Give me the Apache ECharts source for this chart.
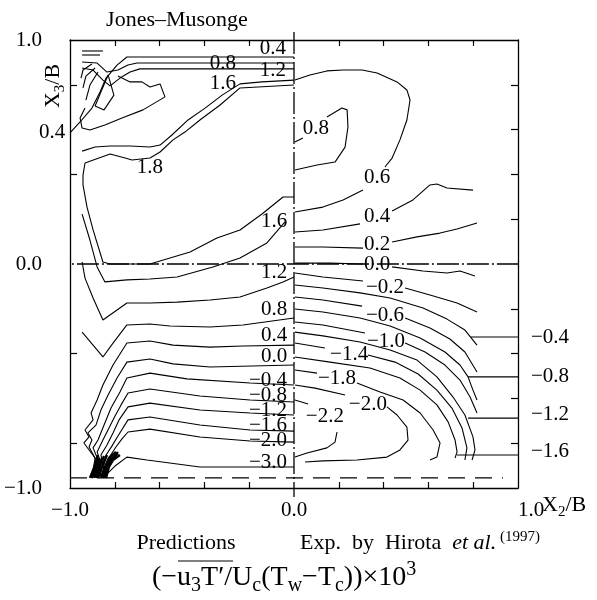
<!DOCTYPE html>
<html>
<head>
<meta charset="utf-8">
<script src="https://cdn.jsdelivr.net/npm/echarts@6/dist/echarts.min.js"></script>
<style>
  html, body { margin: 0; padding: 0; background: #fff; }
  #chart { width: 597px; height: 600px; }
</style>
</head>
<body>
<div id="chart"></div>
<script>
// ---- predictions (left half), Jones-Musonge model : contour polylines [x2/B, x3/B] ----
var predTop1 = [[[-0.946, 0.951], [-0.853, 0.951]]];
var predTop2 = [[[-0.946, 0.933], [-0.866, 0.933]]];
var predChevrons = [
  [[-0.902, 0.893], [-0.942, 0.866], [-0.951, 0.830]],
  [[-0.888, 0.875], [-0.929, 0.839], [-0.942, 0.786]],
  [[-0.875, 0.857], [-0.911, 0.799], [-0.929, 0.732]]
];
var pred04Top = [[[-1.0, 0.585], [-0.955, 0.634], [-0.902, 0.696], [-0.866, 0.768], [-0.839, 0.830], [-0.790, 0.888], [-0.746, 0.924], [0, 0.924]]];
var pred08Top = [[[-0.946, 0.902], [-0.879, 0.897], [-0.835, 0.857], [-0.786, 0.866], [-0.741, 0.888], [-0.701, 0.897], [0, 0.897]]];
var pred12Top = [[[-0.946, 0.875], [-0.897, 0.866], [-0.853, 0.821], [-0.821, 0.795], [-0.777, 0.830], [-0.732, 0.857], [-0.688, 0.871], [0, 0.871]]];
var predLoop = [[[-0.786, 0.839], [-0.732, 0.813], [-0.679, 0.813], [-0.643, 0.790], [-0.598, 0.804], [-0.576, 0.746], [-0.674, 0.688], [-0.768, 0.652], [-0.844, 0.621], [-0.911, 0.598], [-0.946, 0.607], [-0.955, 0.652], [-0.933, 0.696]]];
var predLoopSmall = [[[-0.830, 0.844], [-0.804, 0.754], [-0.848, 0.688], [-0.888, 0.705], [-0.862, 0.768], [-0.830, 0.844]]];
var pred16Top = [[[0, 0.821], [-0.143, 0.813], [-0.241, 0.804], [-0.321, 0.754], [-0.397, 0.696], [-0.473, 0.643], [-0.545, 0.576], [-0.598, 0.531], [-0.643, 0.522], [-0.732, 0.527], [-0.821, 0.527], [-0.888, 0.522], [-0.946, 0.504]]];
var pred18 = [[[0, 0.799], [-0.241, 0.786], [-0.330, 0.710], [-0.420, 0.643], [-0.487, 0.589], [-0.540, 0.554], [-0.598, 0.500], [-0.643, 0.473], [-0.723, 0.464], [-0.754, 0.473], [-0.821, 0.491], [-0.933, 0.451], [-0.942, 0.397], [-0.942, 0.353], [-0.924, 0.254], [-0.897, 0.152], [-0.853, 0.009], [-0.821, 0], [-0.643, 0], [-0.464, 0.054], [-0.344, 0.116], [-0.241, 0.152], [-0.143, 0.223], [-0.049, 0.299], [0, 0.299]]];
var pred16 = [[[-0.946, 0.223], [-0.911, 0.107], [-0.879, -0.013], [-0.844, -0.080], [-0.746, -0.071], [-0.643, -0.067], [-0.522, -0.058], [-0.362, -0.013], [-0.241, 0.027], [-0.121, 0.094], [-0.040, 0.188]]];
var pred12 = [[[-0.946, 0.009], [-0.933, -0.063], [-0.897, -0.152], [-0.853, -0.250], [-0.746, -0.174], [-0.643, -0.174], [-0.522, -0.170], [-0.375, -0.161], [-0.241, -0.147], [-0.121, -0.107], [-0.049, -0.080], [0, -0.058]]];
var pred08 = [[[-0.946, -0.304], [-0.897, -0.362], [-0.853, -0.415], [-0.808, -0.353], [-0.746, -0.272], [-0.643, -0.268], [-0.554, -0.277], [-0.375, -0.281], [-0.228, -0.272], [0, -0.241]]];
var pred04 = [[[-0.902, -0.951], [-0.888, -0.866], [-0.938, -0.799], [-0.915, -0.772], [-0.933, -0.741], [-0.897, -0.696], [-0.906, -0.665], [-0.879, -0.607], [-0.853, -0.540], [-0.808, -0.451], [-0.746, -0.353], [-0.643, -0.344], [-0.540, -0.362], [-0.375, -0.371], [-0.228, -0.366], [0, -0.362]]];
var pred00 = [[[-0.893, -0.951], [-0.879, -0.884], [-0.915, -0.817], [-0.902, -0.786], [-0.920, -0.754], [-0.884, -0.719], [-0.862, -0.652], [-0.830, -0.585], [-0.790, -0.509], [-0.746, -0.438], [-0.643, -0.424], [-0.540, -0.446], [-0.375, -0.460], [0, -0.451]]];
var predN04 = [[[-0.884, -0.951], [-0.871, -0.884], [-0.897, -0.821], [-0.875, -0.786], [-0.848, -0.719], [-0.817, -0.643], [-0.777, -0.571], [-0.746, -0.509], [-0.643, -0.487], [-0.478, -0.513], [-0.196, -0.531], [0, -0.540]]];
var predN08 = [[[-0.875, -0.951], [-0.862, -0.888], [-0.879, -0.839], [-0.853, -0.786], [-0.826, -0.732], [-0.799, -0.679], [-0.772, -0.629], [-0.741, -0.576], [-0.643, -0.558], [-0.420, -0.589], [-0.196, -0.607], [0, -0.616]]];
var predN12 = [[[-0.866, -0.951], [-0.853, -0.888], [-0.862, -0.853], [-0.835, -0.808], [-0.808, -0.754], [-0.781, -0.696], [-0.741, -0.638], [-0.643, -0.621], [-0.420, -0.652], [-0.196, -0.665], [0, -0.674]]];
var predN16 = [[[-0.857, -0.951], [-0.848, -0.893], [-0.839, -0.853], [-0.813, -0.813], [-0.786, -0.768], [-0.741, -0.696], [-0.643, -0.683], [-0.420, -0.719], [-0.196, -0.741], [0, -0.746]]];
var predN20 = [[[-0.848, -0.951], [-0.839, -0.897], [-0.821, -0.857], [-0.795, -0.817], [-0.768, -0.781], [-0.741, -0.750], [-0.643, -0.737], [-0.420, -0.772], [-0.196, -0.790], [0, -0.795]]];
var predN30 = [[[-0.853, -0.955], [-0.799, -0.902], [-0.746, -0.862], [-0.656, -0.875], [-0.420, -0.906], [0, -0.906]]];
var predFan = [
  [[-0.911, -0.955], [-0.893, -0.911], [-0.875, -0.853]],
  [[-0.906, -0.955], [-0.888, -0.915], [-0.870, -0.866]],
  [[-0.902, -0.955], [-0.884, -0.920], [-0.866, -0.875]],
  [[-0.893, -0.955], [-0.875, -0.911], [-0.857, -0.866]],
  [[-0.884, -0.955], [-0.866, -0.902], [-0.848, -0.857]],
  [[-0.875, -0.955], [-0.857, -0.906], [-0.835, -0.853]],
  [[-0.862, -0.955], [-0.844, -0.906], [-0.826, -0.866], [-0.795, -0.839]],
  [[-0.853, -0.955], [-0.837, -0.909], [-0.817, -0.870], [-0.786, -0.846]],
  [[-0.844, -0.955], [-0.830, -0.911], [-0.808, -0.875], [-0.777, -0.853]],
  [[-0.839, -0.955], [-0.821, -0.884], [-0.786, -0.839]]
];

// ---- experiment (right half), Hirota et al. 1997 ----
var exp08 = [[[0.004, 0.545], [0.040, 0.563]], [[0.147, 0.656], [0.214, 0.696], [0.237, 0.688], [0.241, 0.612], [0.228, 0.522], [0.183, 0.455], [0.103, 0.442], [0.004, 0.420]]];
var exp06 = [[[0.004, 0.821], [0.071, 0.844], [0.147, 0.862], [0.219, 0.866], [0.304, 0.866], [0.371, 0.853], [0.460, 0.813], [0.504, 0.777], [0.518, 0.732], [0.504, 0.643], [0.473, 0.554], [0.438, 0.473], [0.406, 0.433]], [[0.308, 0.330], [0.219, 0.286], [0.129, 0.254], [0.004, 0.232]]];
var exp04 = [[[0.004, 0.143], [0.129, 0.152], [0.295, 0.179]], [[0.438, 0.237], [0.531, 0.286], [0.607, 0.353], [0.638, 0.357], [0.683, 0.339], [0.799, 0.330]]];
var exp02 = [[[0.004, 0.076], [0.129, 0.076], [0.308, 0.071]], [[0.438, 0.098], [0.549, 0.121], [0.652, 0.138], [0.728, 0.156], [0.817, 0.183]]];
var exp00 = [[[0.004, 0.004], [0.161, 0.004], [0.308, 0]], [[0.438, -0.013], [0.576, -0.031], [0.683, -0.040], [0.741, -0.031], [0.808, -0.054]]];
var expN02 = [[[0.004, -0.040], [0.129, -0.058], [0.308, -0.076]], [[0.496, -0.107], [0.607, -0.138], [0.728, -0.174], [0.817, -0.214]]];
var expN04 = [[[0.004, -0.094], [0.129, -0.107], [0.295, -0.129], [0.429, -0.152], [0.576, -0.196], [0.683, -0.246], [0.763, -0.295], [0.817, -0.362]]];
var expN06 = [[[0.004, -0.147], [0.129, -0.161], [0.304, -0.188]], [[0.496, -0.241], [0.607, -0.286], [0.696, -0.335], [0.763, -0.393], [0.817, -0.482]]];
var expN08 = [[[0.004, -0.201], [0.129, -0.214], [0.295, -0.241], [0.429, -0.277], [0.563, -0.330], [0.674, -0.393], [0.741, -0.451], [0.777, -0.504], [0.799, -0.563], [0.817, -0.607]]];
var expN10 = [[[0.004, -0.259], [0.129, -0.272], [0.317, -0.308]], [[0.496, -0.353], [0.585, -0.393], [0.674, -0.451], [0.741, -0.518], [0.786, -0.594], [0.817, -0.665]]];
var expN12 = [[[0.004, -0.304], [0.129, -0.321], [0.295, -0.348], [0.429, -0.384], [0.549, -0.429], [0.638, -0.504], [0.710, -0.594], [0.763, -0.674], [0.799, -0.772], [0.808, -0.830], [0.795, -0.875]]];
var expN14 = [[[0.004, -0.353], [0.138, -0.375]], [[0.330, -0.406], [0.451, -0.438], [0.554, -0.491], [0.638, -0.563], [0.705, -0.643], [0.750, -0.732], [0.772, -0.821], [0.763, -0.875]]];
var expN16 = [[[0.004, -0.415], [0.161, -0.438], [0.339, -0.464], [0.473, -0.509], [0.563, -0.563], [0.638, -0.629], [0.688, -0.705], [0.719, -0.786], [0.728, -0.839], [0.719, -0.866]]];
var expN18 = [[[0.004, -0.473], [0.103, -0.487]], [[0.281, -0.531], [0.384, -0.571], [0.487, -0.607], [0.563, -0.665], [0.621, -0.741], [0.652, -0.799], [0.638, -0.862], [0.607, -0.875]]];
var expN20 = [[[0.004, -0.540], [0.094, -0.554], [0.228, -0.585]], [[0.415, -0.638], [0.460, -0.674], [0.504, -0.728], [0.509, -0.786], [0.473, -0.830], [0.415, -0.862], [0.281, -0.875], [0.129, -0.879], [0.049, -0.884]]];
var expN22 = [[[0.004, -0.607], [0.063, -0.625]], [[0.192, -0.750], [0.183, -0.795], [0.147, -0.821], [0.058, -0.844], [0.004, -0.862]]];
var expLeaders = [[[0.790, -0.326], [1.0, -0.326]], [[0.777, -0.504], [1.0, -0.504]], [[0.777, -0.688], [1.0, -0.688]], [[0.728, -0.853], [1.0, -0.853]]];

// contour level labels [x, y, text]
var predLabels = [
  [-0.094, 0.960, '0.4'], [-0.317, 0.893, '0.8'], [-0.094, 0.862, '1.2'], [-0.317, 0.804, '1.6'], [-0.643, 0.429, '1.8'],
  [-0.089, 0.188, '1.6'], [-0.089, -0.036, '1.2'], [-0.089, -0.205, '0.8'], [-0.089, -0.317, '0.4'], [-0.089, -0.411, '0.0'],
  [-0.116, -0.522, '\u22120.4'], [-0.116, -0.585, '\u22120.8'], [-0.116, -0.652, '\u22121.2'], [-0.116, -0.719, '\u22121.6'],
  [-0.116, -0.786, '\u22122.0'], [-0.116, -0.884, '\u22123.0'], [-1.080, 0.589, '0.4']
];
var expLabels = [
  [0.098, 0.607, '0.8'], [0.371, 0.384, '0.6'], [0.371, 0.210, '0.4'], [0.371, 0.085, '0.2'], [0.371, -0.004, '0.0'],
  [0.406, -0.103, '\u22120.2'], [0.406, -0.228, '\u22120.6'], [0.411, -0.348, '\u22121.0'], [0.246, -0.406, '\u22121.4'],
  [0.192, -0.509, '\u22121.8'], [0.330, -0.625, '\u22122.0'], [0.138, -0.679, '\u22122.2'],
  [1.143, -0.326, '\u22120.4'], [1.143, -0.500, '\u22120.8'], [1.143, -0.670, '\u22121.2'], [1.143, -0.839, '\u22121.6']
];

// reference lines
var centerLine = [[0, 1.036], [0, -1.04]];
var zeroLine = [[-1.103, 0], [1.107, 0]];
var wallLine = [[-1.0, -0.955], [0.933, -0.955]];

// axis ticks / labels
var xTicks = [-0.8, -0.6, -0.4, -0.2, 0.2, 0.4, 0.6, 0.8];
var rightTicks = [-0.8, -0.6, -0.4, -0.2, 0.2, 0.4, 0.6, 0.8];
var leftTicks = [-0.8, -0.4, 0.4, 0.8];
var axisLabelVals = [-1, 0, 1];

var ink = '#000';
var serif = 'Liberation Serif';
var chart = echarts.init(document.getElementById('chart'));

var series = [];
function addContour(segs, width) {
  segs.forEach(function (seg) {
    series.push({
      type: 'line', data: seg, symbol: 'none', clip: false, silent: true, animation: false, z: 3,
      lineStyle: { color: ink, width: width || 1.1 }
    });
  });
}
[predTop1, predTop2, predChevrons, pred04Top, pred08Top, pred12Top, predLoop, predLoopSmall,
 pred16Top, pred18, pred16, pred12, pred08, pred04, pred00, predN04, predN08, predN12, predN16,
 predN20, predN30,
 exp08, exp06, exp04, exp02, exp00, expN02, expN04, expN06, expN08, expN10, expN12, expN14,
 expN16, expN18, expN20, expN22, expLeaders].forEach(function (c) { addContour(c); });
addContour(predFan, 2.4);

// dash-dot symmetry lines and dashed wall line
series.push({ type: 'line', data: centerLine, symbol: 'none', clip: false, silent: true, animation: false,
  lineStyle: { color: ink, width: 1.3, type: [22, 3, 2, 3] } });
series.push({ type: 'line', data: zeroLine, symbol: 'none', clip: false, silent: true, animation: false,
  lineStyle: { color: ink, width: 1.3, type: [22, 3, 2, 3] } });
series.push({ type: 'line', data: wallLine, symbol: 'none', clip: false, silent: true, animation: false,
  lineStyle: { color: ink, width: 1.1, type: [17, 10] } });

function labelSeries(list) {
  return {
    type: 'scatter', clip: false, silent: true, animation: false, z: 5,
    symbolSize: 0, itemStyle: { color: ink },
    data: list.map(function (d) { return { value: [d[0], d[1]], name: d[2] }; }),
    label: { show: true, position: 'inside', formatter: '{b}', color: ink, opacity: 1,
      textBorderWidth: 0, fontFamily: serif, fontSize: 21 },
    labelLayout: { hideOverlap: false }
  };
}
series.push(labelSeries(predLabels));
series.push(labelSeries(expLabels));

function fmt(v) { return (v < 0 ? '\u2212' : '') + Math.abs(v).toFixed(1); }
var frame = { onZero: false, lineStyle: { color: ink, width: 1.3 } };
var tickStyle = { color: ink, width: 1.2 };

chart.setOption({
  animation: false,
  grid: { left: 70, top: 40, width: 448, height: 448 },
  xAxis: [{
    type: 'value', min: -1, max: 1, position: 'bottom',
    axisLine: frame, splitLine: { show: false },
    axisTick: { inside: true, length: 6, customValues: xTicks, lineStyle: tickStyle },
    axisLabel: { customValues: axisLabelVals, formatter: fmt, margin: 12, color: ink,
      fontFamily: serif, fontSize: 21, alignMaxLabel: 'left' }
  }, {
    type: 'value', min: -1, max: 1, position: 'top',
    axisLine: frame, splitLine: { show: false },
    axisTick: { inside: true, length: 6, customValues: xTicks, lineStyle: tickStyle },
    axisLabel: { show: false }
  }],
  yAxis: [{
    type: 'value', min: -1, max: 1, position: 'left',
    axisLine: frame, splitLine: { show: false },
    axisTick: { inside: true, length: 7, customValues: leftTicks, lineStyle: tickStyle },
    axisLabel: { customValues: axisLabelVals, formatter: fmt, margin: 28, color: ink,
      fontFamily: serif, fontSize: 21 }
  }, {
    type: 'value', min: -1, max: 1, position: 'right',
    axisLine: frame, splitLine: { show: false },
    axisTick: { inside: true, length: 7, customValues: rightTicks, lineStyle: tickStyle },
    axisLabel: { show: false }
  }],
  series: series,
  graphic: [
    { type: 'text', x: 177, y: 20, style: { text: 'Jones\u2013Musonge', fill: ink,
      font: '22px "Liberation Serif"', align: 'center', verticalAlign: 'middle' } },
    { type: 'text', x: 53, y: 86, rotation: Math.PI / 2, style: {
      text: '{a|X}{s|3}{a|/B}', align: 'center', verticalAlign: 'middle',
      rich: { a: { fontSize: 22, fontFamily: serif, fill: ink, lineHeight: 30 },
              s: { fontSize: 15, fontFamily: serif, fill: ink, lineHeight: 15, verticalAlign: 'bottom' } } } },
    { type: 'text', x: 542, y: 505, style: {
      text: '{a|X}{s|2}{a|/B}', align: 'left', verticalAlign: 'middle',
      rich: { a: { fontSize: 22, fontFamily: serif, fill: ink, lineHeight: 30 },
              s: { fontSize: 15, fontFamily: serif, fill: ink, lineHeight: 15, verticalAlign: 'bottom' } } } },
    { type: 'text', x: 186, y: 543, style: { text: 'Predictions', fill: ink,
      font: '22px "Liberation Serif"', align: 'center', verticalAlign: 'middle' } },
    { type: 'text', x: 300, y: 543, style: {
      text: '{a|Exp.  by  Hirota  }{i|et al.}{p| (1997)}', align: 'left', verticalAlign: 'middle',
      rich: { a: { fontSize: 22, fontFamily: serif, fill: ink, lineHeight: 26 },
              i: { fontSize: 22, fontFamily: serif, fontStyle: 'italic', fill: ink, lineHeight: 26 },
              p: { fontSize: 15, fontFamily: serif, fill: ink, lineHeight: 16, verticalAlign: 'top' } } } },
    { type: 'text', x: 152, y: 578, style: {
      text: '{a|(\u2212u}{s|3}{a|T\u2032/U}{s|c}{a|(T}{s|w}{a|\u2212T}{s|c}{a|))\u00d710}{p|3}',
      align: 'left', verticalAlign: 'middle',
      rich: { a: { fontSize: 28, fontFamily: serif, fill: ink, lineHeight: 36 },
              s: { fontSize: 20, fontFamily: serif, fill: ink, lineHeight: 18, verticalAlign: 'bottom' },
              p: { fontSize: 20, fontFamily: serif, fill: ink, lineHeight: 18, verticalAlign: 'top' } } } },
    { type: 'line', shape: { x1: 178, y1: 561, x2: 233, y2: 561 }, style: { stroke: ink, lineWidth: 1.2 } }
  ]
});
</script>
</body>
</html>
